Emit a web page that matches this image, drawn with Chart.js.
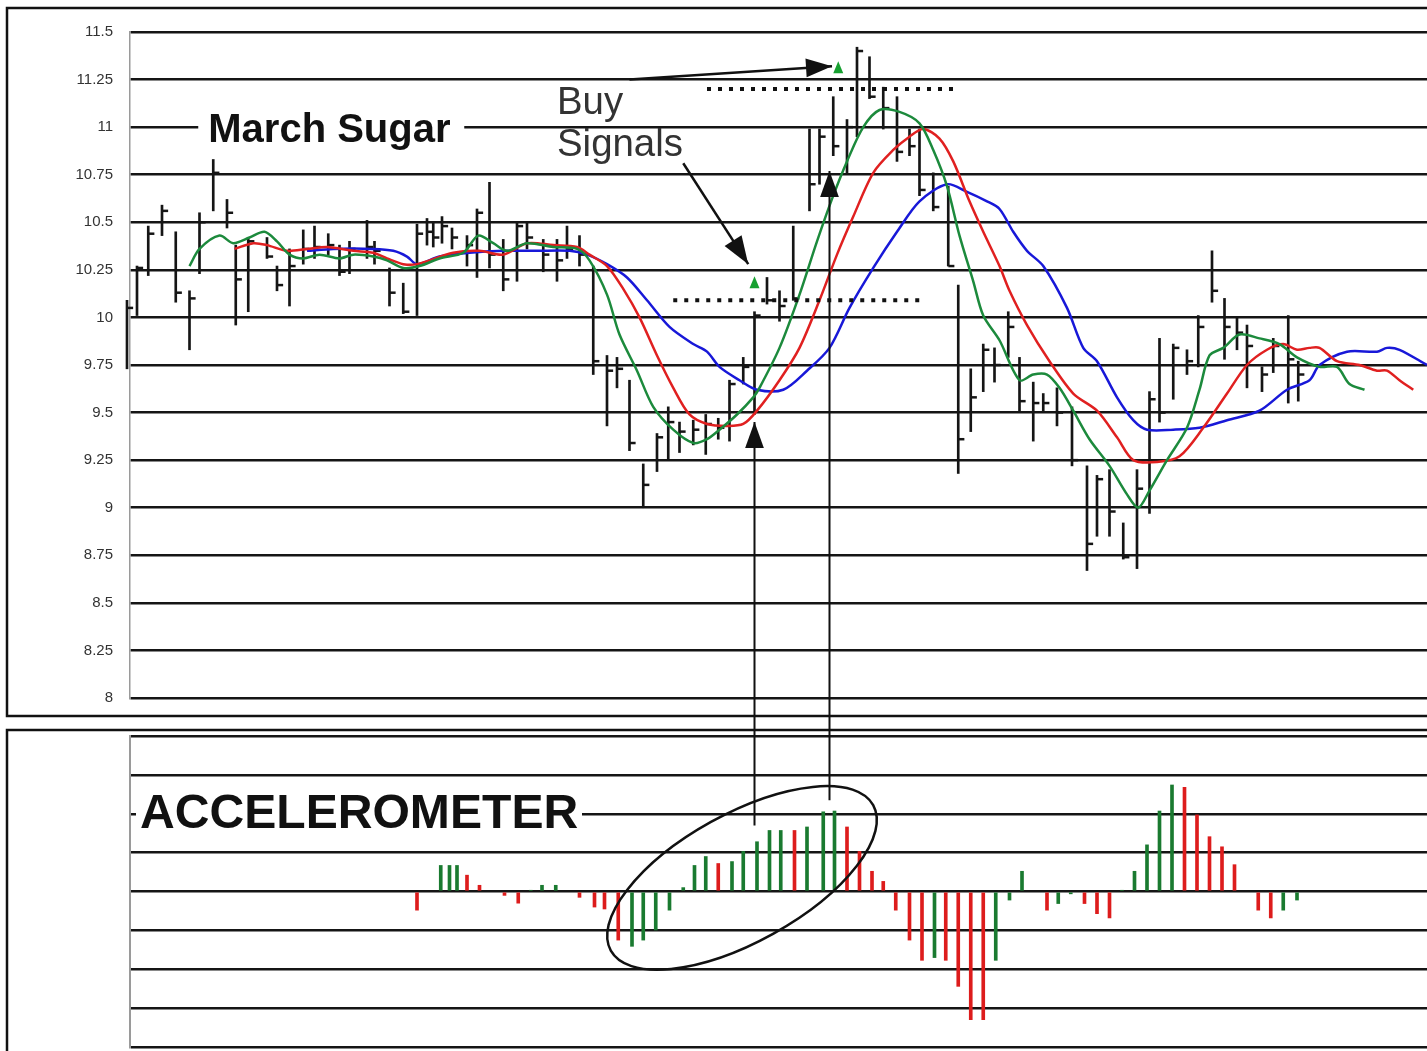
<!DOCTYPE html>
<html lang="en">
<head>
<meta charset="UTF-8">
<title>March Sugar - Accelerometer</title>
<script src="https://cdn.jsdelivr.net/npm/chart.js@4.4.1/dist/chart.umd.min.js"></script>
<style>
  html, body { margin: 0; padding: 0; background: #fff; }
  #wrap { position: relative; width: 1427px; height: 1051px; overflow: hidden; }
  #priceChart { position: absolute; left: 0; top: 0; }
  #accelChart { position: absolute; left: 0; top: 724px; }
</style>
</head>
<body>
<div id="wrap">
  <canvas id="priceChart" width="1427" height="724"></canvas>
  <canvas id="accelChart" width="1427" height="327"></canvas>
</div>
<script>
// daily bars (x = trading day index)
const barDay = [0.0,0.8,1.7,2.8,3.9,5.0,5.8,6.9,8.0,8.7,
  9.7,11.2,12.0,13.0,14.1,15.0,16.1,17.0,17.8,19.2,
  19.8,21.0,22.1,23.2,24.0,24.5,25.2,26.0,27.2,28.0,
  29.0,30.1,31.2,32.0,33.3,34.4,35.2,36.2,37.3,38.4,
  39.2,40.2,41.3,42.4,43.3,44.2,45.3,46.3,47.3,48.2,
  49.3,50.2,51.2,52.2,53.3,54.6,55.4,56.5,57.6,58.4,
  59.4,60.5,61.6,62.6,63.4,64.5,65.7,66.5,67.5,68.5,
  69.4,70.5,71.4,72.5,73.3,74.4,75.6,76.8,77.6,78.6,
  79.7,80.8,81.8,82.6,83.7,84.8,85.7,86.8,87.8,88.8,
  89.6,90.8,91.7,92.9,93.7];
const barHigh = [10.09,10.27,10.48,10.59,10.45,10.14,10.55,10.83,10.62,10.38,
  10.42,10.42,10.27,10.36,10.46,10.48,10.44,10.38,10.40,10.51,
  10.40,10.26,10.18,10.49,10.52,10.50,10.53,10.47,10.43,10.57,
  10.71,10.41,10.50,10.50,10.41,10.41,10.48,10.43,10.27,9.80,
  9.79,9.67,9.23,9.39,9.53,9.45,9.46,9.49,9.47,9.67,
  9.79,10.03,10.21,10.14,10.48,10.99,10.99,11.16,11.04,11.42,
  11.37,11.21,11.16,10.99,10.99,10.76,10.69,10.17,9.73,9.86,
  9.84,10.03,9.79,9.66,9.60,9.63,9.53,9.22,9.17,9.20,
  8.92,9.20,9.61,9.89,9.86,9.83,10.01,10.35,10.10,10.00,
  9.96,9.74,9.89,10.01,9.77];
const barLow = [9.73,10.01,10.22,10.43,10.08,9.83,10.23,10.56,10.47,9.96,
  10.03,10.31,10.14,10.06,10.28,10.31,10.33,10.22,10.23,10.31,
  10.28,10.06,10.02,10.01,10.38,10.37,10.39,10.36,10.27,10.21,
  10.26,10.14,10.19,10.36,10.24,10.19,10.31,10.27,9.70,9.43,
  9.63,9.30,9.00,9.19,9.25,9.29,9.33,9.28,9.36,9.35,
  9.65,9.49,10.07,9.98,10.09,10.56,10.70,10.85,10.76,10.95,
  11.15,10.99,10.82,10.85,10.64,10.56,10.27,9.18,9.40,9.61,
  9.66,9.79,9.51,9.35,9.50,9.43,9.22,8.67,8.85,8.85,
  8.73,8.68,8.97,9.45,9.57,9.70,9.74,10.08,9.78,9.83,
  9.63,9.61,9.71,9.55,9.56];
const barClose = [10.05,10.26,10.44,10.56,10.13,10.10,10.50,10.76,10.55,10.20,
  10.40,10.32,10.17,10.27,10.36,10.37,10.38,10.24,10.36,10.37,
  10.35,10.13,10.03,10.44,10.45,10.42,10.48,10.42,10.38,10.55,
  10.33,10.20,10.48,10.42,10.33,10.30,10.36,10.33,9.77,9.72,
  9.73,9.34,9.12,9.37,9.45,9.40,9.41,9.44,9.42,9.65,
  9.74,10.01,10.09,10.06,10.10,10.70,10.95,10.90,11.00,11.40,
  11.16,11.10,10.87,10.90,10.67,10.58,10.27,9.36,9.58,9.83,
  9.75,9.95,9.56,9.55,9.55,9.50,9.25,8.81,9.15,8.98,
  8.74,9.10,9.57,9.50,9.84,9.77,9.95,10.14,9.95,9.92,
  9.85,9.70,9.85,9.78,9.70];

// displaced moving averages
const greenDay = [5.0,5.8,7.4,8.5,9.8,11.0,12.0,13.0,14.1,15.4,17.0,18.1,19.7,20.8,22.1,23.4,25.0,26.9,28.1,29.3,
  30.4,32.0,34.1,36.0,37.0,38.4,39.4,40.8,42.1,43.7,45.3,46.4,47.4,48.8,50.1,50.6,52.2,53.8,55.2,56.5,
  57.6,58.9,60.2,61.8,63.4,64.5,65.6,66.6,67.7,68.5,69.8,71.4,72.5,73.6,74.6,75.7,77.0,78.6,80.0,80.9,
  81.8,83.2,84.8,85.8,86.6,87.7,89.0,90.6,92.2,93.6,95.4,96.8,97.8,99.0];
const greenVal = [10.27,10.36,10.43,10.39,10.42,10.45,10.40,10.33,10.31,10.33,10.31,10.33,10.32,10.30,10.26,10.27,10.31,10.34,10.43,10.39,
  10.35,10.39,10.37,10.36,10.30,10.12,9.91,9.72,9.53,9.41,9.34,9.36,9.41,9.49,9.58,9.63,9.84,10.12,10.40,10.64,
  10.82,11.00,11.09,11.08,11.02,10.88,10.69,10.43,10.19,10.01,9.88,9.67,9.70,9.70,9.63,9.51,9.36,9.22,9.07,9.00,
  9.09,9.25,9.42,9.62,9.80,9.84,9.91,9.89,9.86,9.79,9.74,9.74,9.65,9.62];
const redDay = [8.6,10.1,11.2,12.8,14.4,16.0,18.1,19.7,20.8,22.1,23.2,26.1,28.2,30.1,32.0,34.1,36.0,37.0,38.4,39.7,
  41.0,42.4,43.7,45.0,46.4,48.0,49.3,50.4,52.2,53.8,55.4,56.8,58.1,59.7,61.3,62.6,63.7,65.0,66.1,67.4,
  68.5,69.8,70.6,72.0,73.8,75.7,77.6,79.2,80.5,82.4,84.2,86.1,88.0,89.6,91.2,92.5,93.6,94.6,95.4,96.8,
  98.6,100.0,100.8,101.8,102.9];
const redVal = [10.36,10.39,10.38,10.35,10.36,10.37,10.35,10.34,10.31,10.28,10.28,10.34,10.35,10.33,10.39,10.38,10.37,10.33,10.27,10.15,
  10.00,9.80,9.63,9.49,9.44,9.43,9.44,9.51,9.67,9.84,10.09,10.33,10.53,10.76,10.88,10.95,10.99,10.94,10.82,10.61,
  10.45,10.27,10.14,9.96,9.77,9.60,9.51,9.37,9.25,9.24,9.27,9.42,9.60,9.75,9.83,9.86,9.83,9.84,9.84,9.77,
  9.75,9.72,9.72,9.67,9.62];
const blueDay = [14.4,16.5,19.7,21.3,22.4,23.2,25.0,27.4,30.1,32.8,35.4,36.8,38.4,40.0,41.6,43.4,45.3,46.4,47.4,49.0,
  50.4,52.5,54.4,56.2,57.8,59.7,61.6,63.4,65.6,67.2,68.8,69.8,70.9,72.0,73.3,75.2,76.5,77.6,79.2,80.5,
  81.6,83.7,85.8,88.0,90.6,92.8,94.6,95.4,97.6,100.0,100.8,101.8,104.0];
const blueVal = [10.35,10.36,10.36,10.35,10.32,10.28,10.32,10.34,10.35,10.35,10.35,10.33,10.28,10.21,10.09,9.95,9.86,9.82,9.74,9.67,
  9.62,9.62,9.72,9.84,10.05,10.26,10.45,10.61,10.70,10.66,10.61,10.57,10.45,10.35,10.27,10.05,9.84,9.77,9.58,9.46,
  9.41,9.41,9.42,9.46,9.51,9.62,9.67,9.75,9.82,9.82,9.84,9.83,9.75];

// accelerometer histogram
const accelUpDay = [25.1,25.8,26.4,32.3,33.2,34.3,40.4,41.3,42.3,43.4,44.5,45.4,46.3,48.4,49.3,50.4,51.4,52.3,54.4,55.7,
  56.6,64.6,69.5,70.6,71.6,74.5,75.5,79.6,80.6,81.6,82.6,83.6,92.5,93.6];
const accelUpVal = [0.67,0.67,0.67,0.03,0.16,0.16,-1.41,-1.25,-0.99,-0.48,0.10,0.67,0.90,0.77,1.03,1.28,1.57,1.57,1.66,2.05,
  2.07,-1.70,-1.77,-0.22,0.52,-0.31,-0.06,0.03,0.52,1.20,2.07,2.74,-0.48,-0.22];
const accelDownDay = [23.2,27.2,28.2,30.2,31.3,36.2,37.4,38.2,39.3,47.3,53.4,57.6,58.6,59.6,60.5,61.5,62.6,63.6,65.5,66.5,
  67.5,68.5,73.6,76.6,77.6,78.6,84.6,85.6,86.6,87.6,88.6,90.5,91.5];
const accelDownVal = [-0.48,0.42,0.16,-0.10,-0.30,-0.15,-0.40,-0.45,-1.25,0.72,1.57,1.66,1.03,0.52,0.26,-0.48,-1.25,-1.77,-1.77,-2.44,
  -3.30,-3.30,-0.48,-0.31,-0.57,-0.68,2.68,1.97,1.41,1.15,0.69,-0.48,-0.68];

const FONT = '"Liberation Sans", Arial, sans-serif';

function fitFont(ctx, text, weight, width) {
  ctx.font = weight + ' 40px ' + FONT;
  const size = 40 * width / ctx.measureText(text).width;
  ctx.font = weight + ' ' + size.toFixed(1) + 'px ' + FONT;
}

function arrow(ctx, x1, y1, x2, y2, head) {
  ctx.beginPath();
  ctx.moveTo(x1, y1);
  ctx.lineTo(x2, y2);
  ctx.stroke();
  const a = Math.atan2(y2 - y1, x2 - x1);
  const w = head * 0.36;
  ctx.beginPath();
  ctx.moveTo(x2, y2);
  ctx.lineTo(x2 - head * Math.cos(a) + w * Math.sin(a), y2 - head * Math.sin(a) - w * Math.cos(a));
  ctx.lineTo(x2 - head * Math.cos(a) - w * Math.sin(a), y2 - head * Math.sin(a) + w * Math.cos(a));
  ctx.closePath();
  ctx.fill();
}

function triangle(ctx, x, y, color) {
  ctx.fillStyle = color;
  ctx.beginPath();
  ctx.moveTo(x, y - 7);
  ctx.lineTo(x + 5, y + 5);
  ctx.lineTo(x - 5, y + 5);
  ctx.closePath();
  ctx.fill();
}

// top panel notes
const priceNotes = {
  id: 'priceNotes',
  beforeDatasetsDraw(chart) {
    const ctx = chart.ctx, sx = v => chart.scales.x.getPixelForValue(v), sy = v => chart.scales.y.getPixelForValue(v);
    ctx.save();
    ctx.fillStyle = '#fff';
    ctx.fillRect(sx(6.5) - 10, sy(10.92) - 32, 266, 44);
    ctx.fillRect(sx(34.4) - 10, sy(11.07) - 32, 90, 44);
    ctx.restore();
  },
  afterDraw(chart) {
    const ctx = chart.ctx, sx = v => chart.scales.x.getPixelForValue(v), sy = v => chart.scales.y.getPixelForValue(v);
    ctx.save();
    // frame
    ctx.strokeStyle = '#111';
    ctx.lineWidth = 2.5;
    ctx.strokeRect(7, 8, 1460, 708);

    // titles
    ctx.fillStyle = '#111';
    ctx.textBaseline = 'alphabetic';
    fitFont(ctx, 'March Sugar', 'bold', 242);
    ctx.fillText('March Sugar', sx(6.5), sy(10.92));
    ctx.fillStyle = '#333';
    fitFont(ctx, 'Signals', 'normal', 126);
    ctx.fillText('Buy', sx(34.4), sy(11.07));
    ctx.fillText('Signals', sx(34.4), sy(10.85));

    // dotted breakout levels
    ctx.strokeStyle = '#111';
    ctx.lineWidth = 4;
    ctx.setLineDash([4, 7]);
    ctx.beginPath();
    ctx.moveTo(sx(46.4), sy(11.2)); ctx.lineTo(sx(66.1), sy(11.2));
    ctx.moveTo(sx(43.7), sy(10.09)); ctx.lineTo(sx(63.4), sy(10.09));
    ctx.stroke();
    ctx.setLineDash([]);

    // buy signal marks
    triangle(ctx, sx(56.9), sy(11.31), '#16a030');
    triangle(ctx, sx(50.2), sy(10.18), '#16a030');

    // arrows
    ctx.strokeStyle = '#111';
    ctx.fillStyle = '#111';
    ctx.lineWidth = 2.5;
    arrow(ctx, sx(40.2), sy(11.25), sx(56.4), sy(11.32), 26);
    arrow(ctx, sx(44.5), sy(10.81), sx(49.7), sy(10.28), 28);
    ctx.lineWidth = 2;
    arrow(ctx, sx(50.2), chart.height, sx(50.2), sy(9.45), 26);
    arrow(ctx, sx(56.2), chart.height, sx(56.2), sy(10.77), 26);
    ctx.restore();
  }
};

// bottom panel notes
const accelNotes = {
  id: 'accelNotes',
  beforeDatasetsDraw(chart) {
    const ctx = chart.ctx, sx = v => chart.scales.x.getPixelForValue(v), sy = v => chart.scales.y.getPixelForValue(v);
    ctx.save();
    ctx.fillStyle = '#fff';
    ctx.fillRect(sx(1.04) - 4, sy(1.63) - 38, 446, 42);
    ctx.restore();
  },
  afterDraw(chart) {
    const ctx = chart.ctx, sx = v => chart.scales.x.getPixelForValue(v), sy = v => chart.scales.y.getPixelForValue(v);
    ctx.save();
    ctx.strokeStyle = '#111';
    ctx.lineWidth = 2.5;
    ctx.strokeRect(7, 6, 1460, 400);

    ctx.fillStyle = '#111';
    fitFont(ctx, 'ACCELEROMETER', 'bold', 438);
    ctx.fillText('ACCELEROMETER', sx(1.04), sy(1.63));

    // circled area
    ctx.lineWidth = 2.5;
    ctx.beginPath();
    ctx.ellipse(sx(49.2), sy(0.35), 150, 64, -29 * Math.PI / 180, 0, Math.PI * 2);
    ctx.stroke();

    // arrow shafts continuing from the price panel
    ctx.lineWidth = 2;
    ctx.beginPath();
    ctx.moveTo(sx(50.2), 0); ctx.lineTo(sx(50.2), sy(1.7));
    ctx.moveTo(sx(56.2), 0); ctx.lineTo(sx(56.2), sy(2.35));
    ctx.stroke();
    ctx.restore();
  }
};

const xScale = {
  type: 'linear', min: 0.24, max: 104, offset: false,
  display: false, grid: { display: false }
};

function fixedWidth(scale) { scale.width = 130; }

new Chart(document.getElementById('priceChart'), {
  type: 'bar',
  data: {
    datasets: [
      {
        type: 'line', label: 'Fast', data: greenDay.map((d, i) => ({ x: d, y: greenVal[i] })),
        borderColor: '#1c8a3c', borderWidth: 2.5, pointRadius: 0, tension: 0.3, order: 1
      },
      {
        type: 'line', label: 'Medium', data: redDay.map((d, i) => ({ x: d, y: redVal[i] })),
        borderColor: '#e02020', borderWidth: 2.5, pointRadius: 0, tension: 0.3, order: 2
      },
      {
        type: 'line', label: 'Slow', data: blueDay.map((d, i) => ({ x: d, y: blueVal[i] })),
        borderColor: '#1818d8', borderWidth: 2.5, pointRadius: 0, tension: 0.3, order: 3
      },
      {
        type: 'bar', label: 'Range', data: barDay.map((d, i) => ({ x: d, y: [barLow[i], barHigh[i]] })),
        backgroundColor: '#151515', barThickness: 2, clip: false, order: 4
      },
      {
        type: 'line', label: 'Close', data: barDay.map((d, i) => ({ x: d + 0.25, y: barClose[i] })),
        showLine: false, pointStyle: 'line', pointRadius: 3, pointBorderWidth: 2.5,
        borderColor: '#151515', clip: false, order: 5
      }
    ]
  },
  options: {
    responsive: false,
    animation: false,
    events: [],
    layout: { autoPadding: false, padding: { top: 32, bottom: 21, left: 0, right: 0 } },
    plugins: { legend: { display: false }, tooltip: { enabled: false } },
    scales: {
      x: xScale,
      y: {
        min: 8, max: 11.5,
        afterFit: fixedWidth,
        border: { display: true, color: '#9a9a9a', width: 1.5 },
        grid: { color: '#151515', lineWidth: 2.5, drawTicks: false },
        ticks: {
          stepSize: 0.25, padding: 17, color: '#333',
          font: { family: FONT, size: 15 },
          callback: v => String(v)
        }
      }
    }
  },
  plugins: [priceNotes]
});

new Chart(document.getElementById('accelChart'), {
  type: 'bar',
  data: {
    datasets: [
      {
        label: 'Rising', data: accelUpDay.map((d, i) => ({ x: d, y: accelUpVal[i] })),
        backgroundColor: '#1a7a30', barThickness: 3, grouped: false
      },
      {
        label: 'Falling', data: accelDownDay.map((d, i) => ({ x: d, y: accelDownVal[i] })),
        backgroundColor: '#dd1c1c', barThickness: 3, grouped: false
      }
    ]
  },
  options: {
    responsive: false,
    animation: false,
    events: [],
    layout: { autoPadding: false, padding: { top: 12, bottom: 4, left: 0, right: 0 } },
    plugins: { legend: { display: false }, tooltip: { enabled: false } },
    scales: {
      x: xScale,
      y: {
        min: -4, max: 4,
        afterFit: fixedWidth,
        border: { display: true, color: '#9a9a9a', width: 2 },
        grid: { color: '#151515', lineWidth: 2.5, drawTicks: false },
        ticks: { stepSize: 1, display: false }
      }
    }
  },
  plugins: [accelNotes]
});
</script>
</body>
</html>
